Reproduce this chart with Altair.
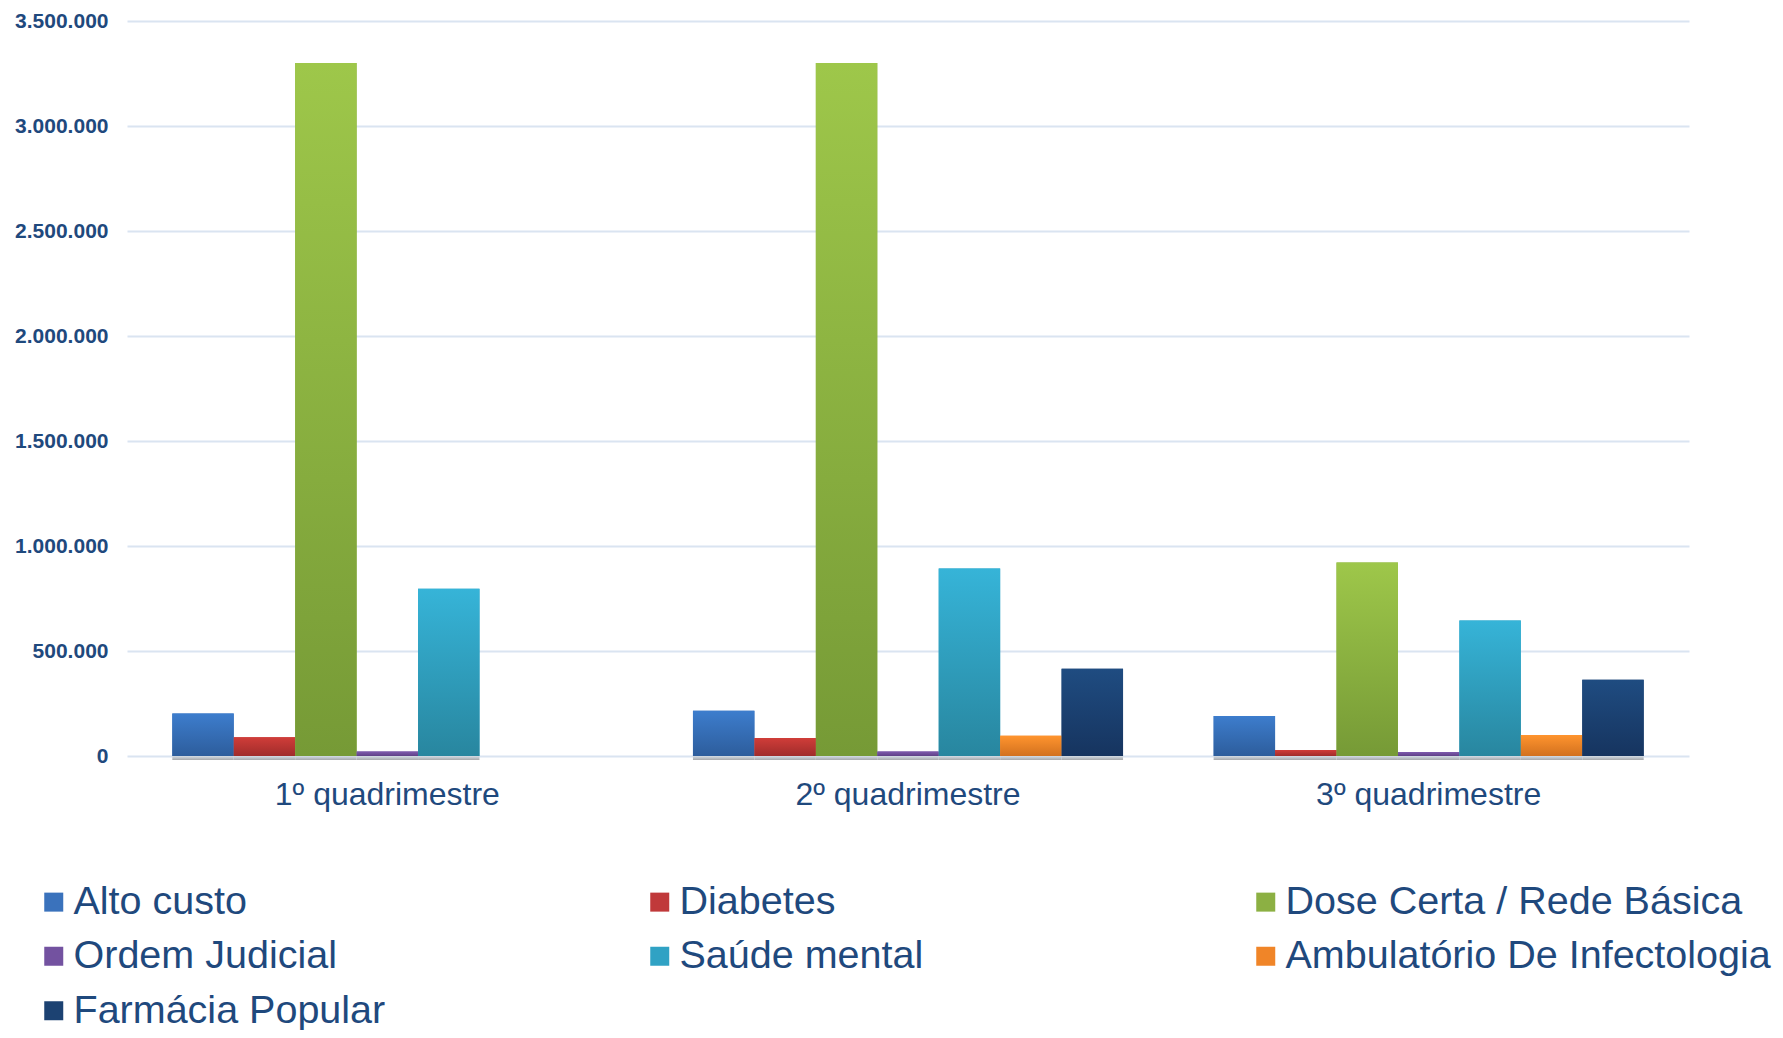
import altair as alt
import pandas as pd

quadrimestres = ["1º quadrimestre", "2º quadrimestre", "3º quadrimestre"]
series = ["Alto custo", "Diabetes", "Dose Certa / Rede Básica", "Ordem Judicial",
          "Saúde mental", "Ambulatório De Infectologia", "Farmácia Popular"]

alto_custo = [202000, 215000, 191000]
diabetes = [89000, 86000, 28000]
dose_certa = [3300000, 3300000, 921000]
ordem_judicial = [21000, 22000, 19000]
saude_mental = [796000, 893000, 645000]
ambulatorio = [None, 96000, 100000]
farmacia = [None, 415000, 363000]

solid_colors = ["#3A72BC", "#C0393A", "#8CB043", "#7352A0", "#30A2C4", "#F08528", "#1C4272"]
grad_top = ["#3D7DCD", "#D03D39", "#9EC74A", "#7F5BAE", "#36B4D8", "#FF942E", "#1F4C81"]
grad_bottom = ["#2D5D9C", "#A02C2B", "#769A36", "#5E4086", "#28869F", "#D2711F", "#16345F"]

values = [alto_custo, diabetes, dose_certa, ordem_judicial, saude_mental, ambulatorio, farmacia]
rows = []
for s, vals in zip(series, values):
    for q, v in zip(quadrimestres, vals):
        if v is not None:
            rows.append({"quadrimestre": q, "serie": s, "valor": v})
df = pd.DataFrame(rows)

text_color = "#1F497D"
font = "Liberation Sans"

x_enc = alt.X("quadrimestre:N", sort=quadrimestres, title=None,
              scale=alt.Scale(paddingInner=0.174, paddingOuter=0.087),
              axis=alt.Axis(labelAngle=0, labelFontSize=32, labelColor=text_color,
                            labelFont=font, labelPadding=23, ticks=False, tickSize=0,
                            labelLimit=500, domain=False, grid=False))
xoff_enc = alt.XOffset("serie:N", sort=series,
                       scale=alt.Scale(domain=series, paddingInner=0, paddingOuter=0))
y_enc = alt.Y("valor:Q", title=None,
              scale=alt.Scale(domain=[0, 3500000], nice=False),
              axis=alt.Axis(values=[0, 500000, 1000000, 1500000, 2000000, 2500000, 3000000, 3500000],
                            labelExpr="replace(format(datum.value, ','), regexp(',', 'g'), '.')",
                            labelFontSize=21, labelFontWeight="bold", labelColor=text_color,
                            labelFont=font, labelPadding=19, ticks=False, tickSize=0,
                            domain=False, grid=True, gridColor="#DAE4F1", gridWidth=2))

# soft grey shadow strip under each bar, at the baseline
shadow_grad = alt.Gradient(gradient="linear", x1=0, y1=0, x2=0, y2=1,
                           stops=[alt.GradientStop(color="#D3DCE6", offset=0),
                                  alt.GradientStop(color="#A7A9AC", offset=1)])
shadow = alt.Chart(df).mark_bar(fill=shadow_grad).encode(
    x=alt.X("quadrimestre:N", sort=quadrimestres),
    xOffset=alt.XOffset("serie:N", sort=series),
    y=alt.value(735),
    y2=alt.value(739),
)

base = alt.Chart(df).mark_bar().encode(
    x=x_enc,
    xOffset=xoff_enc,
    y=y_enc,
    color=alt.Color("serie:N", sort=series,
                    scale=alt.Scale(domain=series, range=solid_colors),
                    legend=alt.Legend(title=None, orient="none", legendX=-93, legendY=861,
                                      direction="horizontal",
                                      columns=3, gridAlign="all", columnPadding=81,
                                      rowPadding=13.5, symbolType="square", symbolSize=361,
                                      symbolStrokeWidth=0, labelFontSize=39.5, labelFont=font,
                                      labelColor=text_color, labelOffset=0, padding=0,
                                      labelLimit=600)),
)

layers = [base, shadow]
for s, top, bot in zip(series, grad_top, grad_bottom):
    grad = alt.Gradient(gradient="linear", x1=0, y1=0, x2=0, y2=1,
                        stops=[alt.GradientStop(color=top, offset=0),
                               alt.GradientStop(color=bot, offset=1)])
    layers.append(
        alt.Chart(df).transform_filter(alt.datum.serie == s).mark_bar(fill=grad).encode(
            x=alt.X("quadrimestre:N", sort=quadrimestres),
            xOffset=alt.XOffset("serie:N", sort=series),
            y=alt.Y("valor:Q"),
        )
    )

chart = alt.layer(*layers).properties(
    width=1562, height=735,
    background="white",
    autosize=alt.AutoSizeParams(type="none"),
    padding={"left": 119, "top": 13, "right": 86, "bottom": 274},
).configure_view(stroke=None)

chart.save("out.html", embed_options={"renderer": "svg", "actions": False})
